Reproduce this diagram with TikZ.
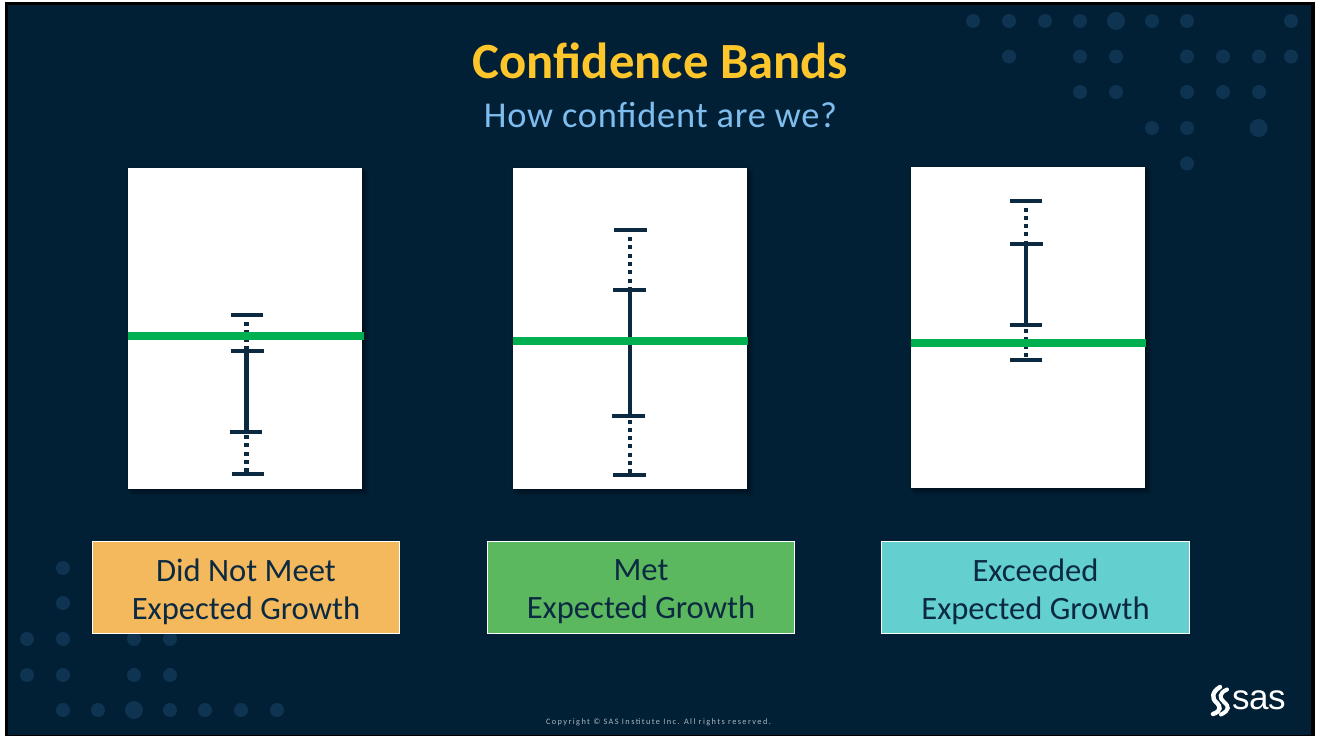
\documentclass[tikz,border=0pt]{standalone}
\usepackage{fontspec}
\setmainfont{Carlito}
\newfontfamily\copyfont[LetterSpace=17]{Carlito}
\newfontfamily\subfont[LetterSpace=2]{Carlito}
\newfontfamily\logofont[LetterSpace=-1.5]{Liberation Sans}
\usetikzlibrary{calc}
\definecolor{bgnavy}{HTML}{012036}
\definecolor{inkblue}{HTML}{0B2A42}
\definecolor{dotblue}{HTML}{0F3452}
\definecolor{gold}{HTML}{FFC62B}
\definecolor{skyblue}{HTML}{7FBDEE}
\definecolor{bargreen}{HTML}{00B050}
\definecolor{boxorange}{HTML}{F4B95C}
\definecolor{boxgreen}{HTML}{5CB85F}
\definecolor{boxteal}{HTML}{63CFCF}
\definecolor{copygrey}{HTML}{AEB8C0}
\tikzset{
  panel/.style={fill=white,draw=none,inner sep=0pt,outer sep=0pt,anchor=north west,minimum width=234pt,minimum height=321pt},
  capbar/.style={fill=inkblue,draw=none,inner sep=0pt,outer sep=0pt,minimum width=32.5pt,minimum height=4pt},
  solidbar/.style={draw=inkblue,line width=4.4pt},
  dotbar/.style={draw=inkblue,line width=4.2pt,dash pattern=on 4pt off 4.3pt},
  greenline/.style={draw=bargreen,line width=8pt},
  label/.style={draw=white,line width=1.2pt,inner sep=0pt,outer sep=0pt,anchor=north west,minimum width=307pt,minimum height=92pt,text=inkblue,align=center,font=\fontsize{32.6}{38.5}\selectfont},
  dot/.style={fill=dotblue,draw=none},
}
\newcommand{\paneshadow}[2]{%
  \foreach \s in {1,2,...,7}{
    \fill[black,opacity=.06] ({#1+\s-3},{#2+\s-3}) rectangle ({#1+234+\s},{#2+321+\s});
  }}
\newcommand{\errbar}[9]{%
  \node[capbar] (#1a) at (#3,#7) {};
  \node[capbar] (#1b) at (#4,#8) {};
  \node[capbar] (#1c) at (#5,#9) {};
  \node[capbar] (#1d) at (#6,\lastcapy) {};
  \coordinate (#1at) at (#2,#7);
  \coordinate (#1bt) at (#2,#8);
  \coordinate (#1ct) at (#2,#9);
  \coordinate (#1dt) at (#2,\lastcapy);
  \draw[dotbar] ($(#1at)+(0,7)$) -- (#1bt);
  \draw[solidbar] (#1bt) -- (#1ct);
  \draw[dotbar] ($(#1ct)+(0,3.5)$) -- (#1dt);
}
\begin{document}
\begin{tikzpicture}[x=1pt,y=-1pt]
\useasboundingbox (0,0) rectangle (1319,736);
\fill[white] (0,0) rectangle (1319,736);
\fill[black] (5,2) rectangle (1315,736);
\fill[bgnavy] (8,5) rectangle (1311,735);
% dots
\foreach \x/\y in {973/21,1009/21,1045/21,1080/21,1152/21,1187/21,1291/21,
  1009/56.5,1080/56.5,1116/56.5,1187/56.5,1223/56.5,1259/56.5,1291/56.5,
  1080/92,1116/92,1187/92,1223/92,1259/92,
  1152/128,1187/128,1187/163.5,
  63/568,63/603,27/639,63/639,134/639,170/639,27/675,63/675,134/675,170/675,
  63/710,98/710,170/710,205/710,241/710,277/710}
  {\fill[dot] (\x,\y) circle (7);}
\foreach \x/\y in {1116/21,1258.5/128,134/710}
  {\fill[dot] (\x,\y) circle (9);}
% title
\node[text=gold,font=\fontsize{50.7}{56}\selectfont\bfseries,inner sep=0pt] (title) at (660.5,61) {Confidence Bands};
\node[text=skyblue,font=\fontsize{36.4}{42}\subfont,inner sep=0pt] (subtitle) at (660.5,115) {How confident are we?};
% panels
\paneshadow{128}{168}
\paneshadow{513}{168}
\paneshadow{911}{167}
\node[panel] (p1) at (128,168) {};
\node[panel] (p2) at (513,168) {};
\node[panel] (p3) at (911,167) {};
% error bars
\def\lastcapy{474}
\errbar{a}{246.5}{247}{247.5}{246}{248}{314.5}{350.5}{431.5}
\def\lastcapy{475}
\errbar{b}{630}{630.5}{629.5}{628.5}{629.5}{230}{290}{416}
\def\lastcapy{360}
\errbar{c}{1026}{1026}{1026.5}{1026}{1026}{200.5}{243.5}{325}
% green reference lines
\coordinate (g1l) at (128,335.5); \coordinate (g1r) at (364,335.5);
\coordinate (g2l) at (513,340.5); \coordinate (g2r) at (748,340.5);
\coordinate (g3l) at (911,343);   \coordinate (g3r) at (1146,343);
\draw[greenline] (g1l) -- (g1r);
\draw[greenline] (g2l) -- (g2r);
\draw[greenline] (g3l) -- (g3r);
% labels
\node[label,fill=boxorange] (l1) at (92.5,541.5) {\rule{0pt}{31pt}Did Not Meet\\Expected Growth};
\node[label,fill=boxgreen] (l2) at (487.5,541.5) {\rule{0pt}{29pt}Met\\Expected Growth};
\node[label,fill=boxteal,minimum width=308pt] (l3) at (881.5,541.5) {\rule{0pt}{31pt}Exceeded\\Expected Growth};
% footer
\node[text=copygrey,font=\fontsize{8.3}{10}\copyfont,inner sep=0pt] (copy) at (658.5,722) {Copyright © SAS Institute Inc. All rights reserved.};
% logo
\node[text=white,font=\fontsize{35}{35}\logofont,inner sep=0pt,anchor=base west] (sas) at (1232,709.5) {sas};
\draw[white,line width=4.4pt,line cap=round] (1220,687) .. controls (1212,692) and (1211,698) .. (1217,703) .. controls (1220,706) and (1222,711) .. (1213,714);
\draw[white,line width=4pt,line cap=round] (1227,689.5) .. controls (1219,693) and (1219,698) .. (1224,702) .. controls (1229,706) and (1230,710) .. (1221,714.5);
\end{tikzpicture}
\end{document}
